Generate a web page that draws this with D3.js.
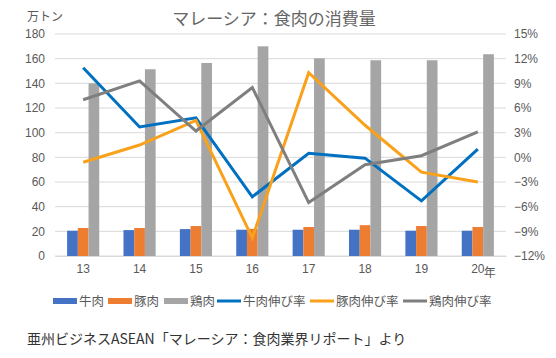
<!DOCTYPE html>
<html><head><meta charset="utf-8">
<script src="https://cdn.jsdelivr.net/npm/d3@7"></script>
<style>
body{margin:0;background:#fff;}
svg{display:block;font-family:"Noto Sans CJK JP","Noto Sans",sans-serif;}
</style></head>
<body><svg id="c" width="556" height="358"></svg>
<script>
const years = ["13","14","15","16","17","18","19","20"];
const beef = [20.5, 21, 21.8, 21.3, 21.3, 21.3, 20.5, 20.5];
const pork = [22.7, 22.7, 24.3, 22, 23.5, 25, 24.3, 23.5];
const chicken = [140, 151.4, 156.5, 170, 160.3, 158.7, 158.7, 163.6];
const beefRate = [10.9, 3.7, 4.8, -4.8, 0.5, -0.1, -5.3, 1.0];
const porkRate = [-0.6, 1.5, 4.5, -9.8, 10.3, 3.9, -1.8, -3.0];
const chickenRate = [7.0, 9.3, 3.2, 8.5, -5.5, -0.9, 0.2, 3.1];
const leftTicks = [0,20,40,60,80,100,120,140,160,180];
const rightTicks = [-12,-9,-6,-3,0,3,6,9,12,15];

const barSeries = [
  {name:"牛肉", values:beef, color:"#4472C4"},
  {name:"豚肉", values:pork, color:"#ED7D31"},
  {name:"鶏肉", values:chicken, color:"#A5A5A5"}
];
const lineSeries = [
  {name:"牛肉伸び率", values:beefRate, color:"#0070C0"},
  {name:"豚肉伸び率", values:porkRate, color:"#F9A11B"},
  {name:"鶏肉伸び率", values:chickenRate, color:"#7F7F7F"}
];

const svg = d3.select("#c");
const L = 55, R = 506, T = 34, B = 256;
const x = d3.scaleBand().domain(years).range([L, R]).padding(0);
const y = d3.scaleLinear().domain([0,180]).range([B, T]);
const y2 = d3.scaleLinear().domain([-12,15]).range([B, T]);
const gw = x.bandwidth()*0.57;
const xs = d3.scaleBand().domain(barSeries.map(d=>d.name)).range([0, gw]).padding(0);

// gridlines
svg.append("g").selectAll("line").data(leftTicks).join("line")
  .attr("x1", L).attr("x2", R).attr("y1", d=>y(d)).attr("y2", d=>y(d))
  .attr("stroke", "#d9d9d9").attr("stroke-width", 1);

// left axis
const la = svg.append("g").attr("transform", `translate(${L},0)`)
  .call(d3.axisLeft(y).tickValues(leftTicks).tickSize(0).tickPadding(10));
la.select(".domain").remove();
la.selectAll("text").attr("fill", "#595959").attr("font-size", 12).attr("font-family", "Liberation Sans, Arial, sans-serif");

// right axis
const ra = svg.append("g").attr("transform", `translate(${R},0)`)
  .call(d3.axisRight(y2).tickValues(rightTicks).tickSize(0).tickPadding(8)
    .tickFormat(d => (d<0 ? "\u2212"+Math.abs(d) : d) + "%"));
ra.select(".domain").remove();
ra.selectAll("text").attr("fill", "#595959").attr("font-size", 12).attr("font-family", "Liberation Sans, Arial, sans-serif");

// bars
barSeries.forEach(s => {
  svg.append("g").selectAll("rect").data(s.values).join("rect")
    .attr("x", (d,i) => x(years[i]) + (x.bandwidth()-gw)/2 + xs(s.name))
    .attr("width", xs.bandwidth())
    .attr("y", d => y(d)).attr("height", d => B - y(d))
    .attr("fill", s.color);
});

// x axis
const xa = svg.append("g").attr("transform", `translate(0,${B})`)
  .call(d3.axisBottom(x).tickSize(0).tickPadding(8));
xa.select(".domain").attr("stroke", "#d9d9d9");
xa.selectAll("text").attr("fill", "#595959").attr("font-size", 12).attr("font-family", "Liberation Sans, Arial, sans-serif");
svg.append("text").attr("x", x("20")+x.bandwidth()/2+6).attr("y", B+21)
  .attr("fill", "#595959").attr("font-size", 12).text("年");

// lines
const line = d3.line().x((d,i) => x(years[i]) + x.bandwidth()/2).y(d => y2(d));
lineSeries.forEach(s => {
  svg.append("path").datum(s.values).attr("d", line)
    .attr("fill", "none").attr("stroke", s.color).attr("stroke-width", 3)
    .attr("stroke-linejoin", "miter");
});

// title
svg.append("text").attr("x", 274).attr("y", 25).attr("text-anchor", "middle")
  .attr("fill", "#666").attr("font-size", 17).text("マレーシア：食肉の消費量");
svg.append("text").attr("x", 27).attr("y", 21)
  .attr("fill", "#595959").attr("font-size", 12).text("万トン");

// legend
const leg = [
  {name:"牛肉", color:"#4472C4", type:"bar", x:53},
  {name:"豚肉", color:"#ED7D31", type:"bar", x:108},
  {name:"鶏肉", color:"#A5A5A5", type:"bar", x:164},
  {name:"牛肉伸び率", color:"#0070C0", type:"line", x:217},
  {name:"豚肉伸び率", color:"#F9A11B", type:"line", x:310},
  {name:"鶏肉伸び率", color:"#7F7F7F", type:"line", x:403}
];
const lg = svg.append("g");
leg.forEach(d => {
  if (d.type === "bar") lg.append("rect").attr("x", d.x).attr("y", 298).attr("width", 24).attr("height", 6).attr("fill", d.color);
  else lg.append("line").attr("x1", d.x).attr("x2", d.x+24).attr("y1", 301).attr("y2", 301).attr("stroke", d.color).attr("stroke-width", 3);
  lg.append("text").attr("x", d.x+26).attr("y", 306).attr("fill", "#595959").attr("font-size", 12.5).text(d.name);
});

// source
svg.append("text").attr("x", 27).attr("y", 344).attr("fill", "#333").attr("font-size", 14)
  .text("亜州ビジネスASEAN「マレーシア：食肉業界リポート」より");
</script></body></html>
